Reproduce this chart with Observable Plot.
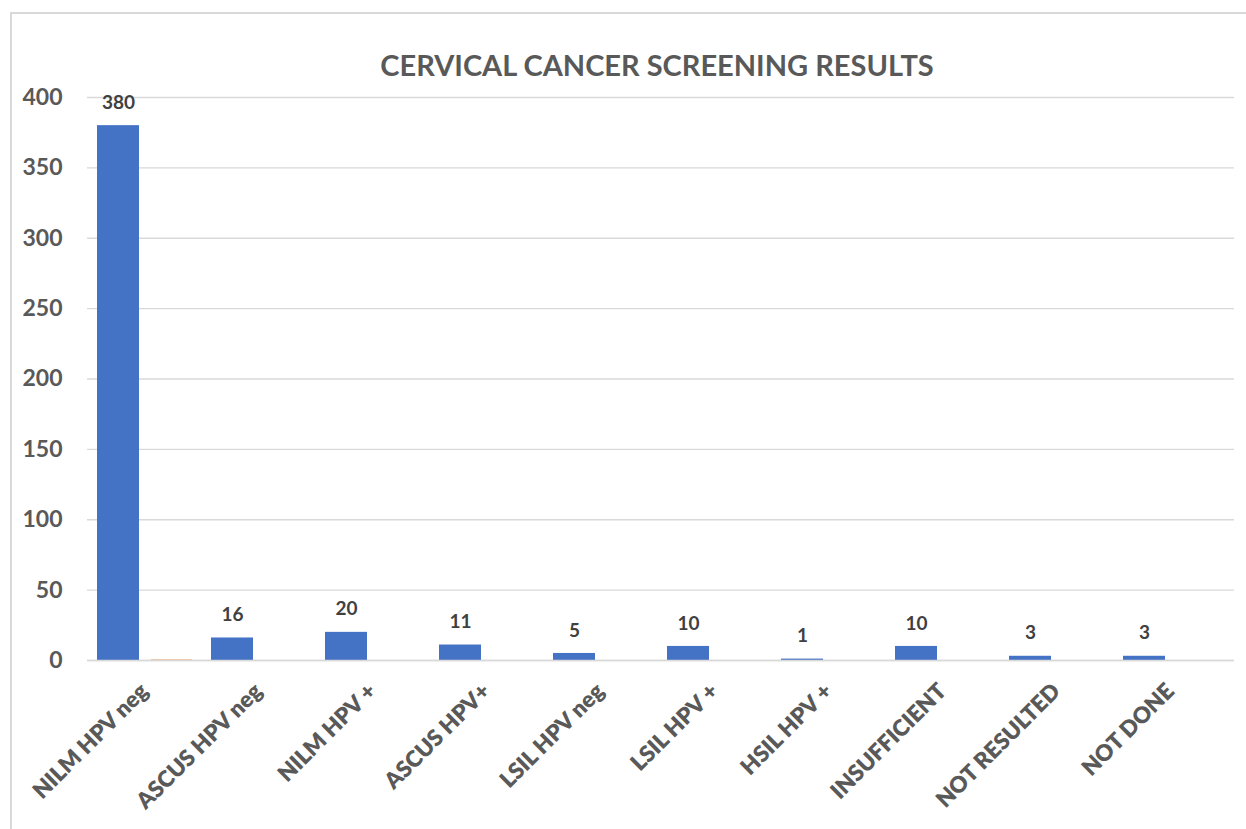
<!DOCTYPE html>
<html>
<head>
<meta charset="utf-8">
<script src="https://cdn.jsdelivr.net/npm/d3@7"></script>
<script src="https://cdn.jsdelivr.net/npm/@observablehq/plot@0.6"></script>
<style>
  html, body { margin: 0; padding: 0; background: #fff; }
  body { width: 1246px; height: 829px; overflow: hidden; position: relative; font-family: Lato, "Open Sans", sans-serif; }
  #frame { position: absolute; left: 10px; top: 12px; width: 1250px; height: 830px; border-left: 2px solid #d9d9d9; border-top: 2px solid #d9d9d9; }
  #title { position: absolute; left: 0; width: 1314px; top: 47px; text-align: center; font-weight: 700; font-size: 29px; color: #595959; }
  #chart { position: absolute; left: 0; top: 80px; }
</style>
</head>
<body>
<div id="frame"></div>
<div id="title">CERVICAL CANCER SCREENING RESULTS</div>
<div id="chart"></div>
<script>
const categories = ["NILM HPV neg", "ASCUS HPV neg", "NILM HPV +", "ASCUS HPV+", "LSIL HPV neg", "LSIL HPV +", "HSIL HPV +", "INSUFFICIENT", "NOT RESULTED", "NOT DONE"];
const counts = [380, 16, 20, 11, 5, 10, 1, 10, 3, 3];
const secondSeries = [0.5, 0, 0, 0, 0, 0, 0, 0, 0, 0];
const yTicks = [0, 50, 100, 150, 200, 250, 300, 350, 400];

const main = categories.map((c, i) => ({category: c, value: counts[i]}));
const second = categories.map((c, i) => ({category: c, value: secondSeries[i]})).filter(d => d.value > 0);

const plot = Plot.plot({
  width: 1246,
  height: 749,
  marginLeft: 87,
  marginRight: 12,
  marginTop: 17,
  marginBottom: 169,
  style: {fontFamily: "Lato, 'Open Sans', sans-serif", background: "transparent"},
  x: {domain: categories, padding: 0, label: null},
  y: {domain: [0, 400], ticks: yTicks, label: null},
  marks: [
    Plot.gridY(yTicks, {stroke: "#d9d9d9", strokeOpacity: 1, strokeWidth: 1.3}),
    Plot.barY(main, {x: "category", y: "value", fill: "#4472c4", insetLeft: 6, insetRight: 66}),
    Plot.barY(second, {x: "category", y: "value", fill: "#ed7d31", fillOpacity: 0.6, insetLeft: 60, insetRight: 13}),
    Plot.ruleY([0], {stroke: "#d9d9d9", strokeWidth: 1.5}),
    Plot.text(main, {x: "category", y: "value", text: d => String(d.value), dx: -30, dy: -23, fontSize: 19, fontWeight: 700, fill: "#404040"}),
    Plot.axisY({ticks: yTicks, tickSize: 0, tickPadding: 25, fontSize: 23, fontWeight: 700, fill: "#595959", label: null, tickFormat: d => String(d)}),
    Plot.axisX({tickSize: 0, tickPadding: 27, dx: -4, tickRotate: -45, fontSize: 22.5, fontWeight: 800, fill: "#595959", label: null})
  ]
});
document.getElementById("chart").appendChild(plot);
</script>
</body>
</html>
